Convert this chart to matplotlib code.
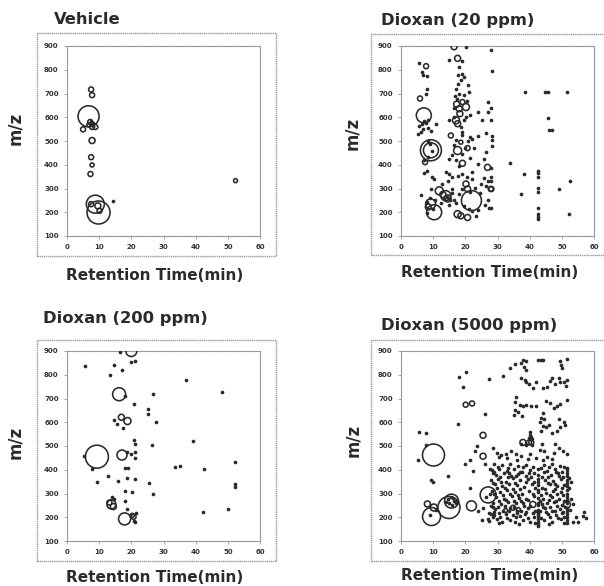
import numpy as np
import matplotlib
matplotlib.use("Agg")
import matplotlib.pyplot as plt
from matplotlib.patches import Rectangle

#=================================#
#   metabolite maps: retention time vs m/z
#   open circles = features, size ~ intensity
#=================================#

W, H = 604, 586
DPI = 100

titles = ["Vehicle", "Dioxan (20 ppm)", "Dioxan (200 ppm)", "Dioxan (5000 ppm)"]
x_ticks = [0, 10, 20, 30, 40, 50, 60]
y_ticks = [100, 200, 300, 400, 500, 600, 700, 800, 900]

# ---- Vehicle ----
veh_circ_rt = [7.5, 7.8, 6.7, 7.2, 7.8, 8.8, 6.8, 5.0, 7.8, 7.5, 7.8, 7.3, 8.8, 9.8, 7.5, 9.6, 10.1, 52.4]
veh_circ_mz = [717, 693, 604, 580, 559, 559, 568, 549, 502, 432, 399, 361, 234, 199, 234, 227, 206, 333]
veh_circ_sz = [5, 5, 21, 5, 5, 5, 4, 5, 6, 5, 4, 5, 18, 23, 5, 6, 5, 4]
veh_dot_rt = [7.4, 8.0, 14.3]
veh_dot_mz = [584, 576, 246]

# ---- Dioxan 20 ppm ----
d20_circ_rt = [16.5, 17.6, 7.8, 5.9, 7.1, 17.3, 18.1, 20.2, 19.1, 18.3, 17.1, 17.6, 15.5,
               9.3, 9.3, 17.6, 18.6, 20.7, 7.5, 19.1, 26.9, 20.2, 20.7, 27.9, 11.9, 13.9,
               14.5, 13.0, 9.2, 10.3, 8.5, 21.9, 17.6, 18.6, 20.7, 28.1]
d20_circ_mz = [897, 848, 815, 679, 608, 655, 636, 643, 664, 615, 587, 573, 523,
               461, 461, 460, 495, 470, 411, 406, 389, 319, 298, 298, 290, 270,
               258, 275, 235, 200, 222, 249, 192, 185, 178, 298]
d20_circ_sz = [6, 6, 5, 5, 15, 6, 6, 7, 5, 6, 7, 6, 5,
               21, 15, 8, 4, 5, 5, 6, 6, 6, 6, 5, 8, 10,
               7, 6, 10, 15, 6, 20, 7, 6, 6, 5]
d20_dot_rt = [5.5, 6.5, 6.7, 8.0, 8.1, 7.8, 5.7, 6.7, 8.3, 6.2, 5.2, 9.3, 10.9, 7.2, 7.8, 6.5, 8.5,
              8.3, 9.1, 8.3, 7.0, 9.6, 8.0, 7.2, 6.2, 9.0, 10.5, 8.0, 9.8, 8.2, 9.5, 10.4, 9.2,
              20.2, 15.0, 19.0, 18.0, 19.0, 19.7, 17.6, 18.6, 17.6, 17.0, 20.7, 17.9, 19.7, 21.0,
              16.8, 17.5, 20.5, 16.5, 15.0, 20.3, 21.5, 19.5, 18.5, 16.6, 19.0, 22.2, 20.7, 21.5,
              19.0, 17.0, 16.5, 20.0, 19.0, 17.0, 16.0, 15.0, 21.5, 18.0, 14.0, 15.0, 16.0, 17.6,
              19.1, 20.5, 22.2, 12.9, 14.5, 15.8, 17.0, 19.5, 21.0, 22.0, 23.3, 23.8, 16.5, 14.8,
              12.5, 17.9, 19.0, 22.0, 21.3, 23.0, 14.2, 15.2, 13.5, 16.0,
              26.9, 23.8, 25.1, 26.4, 25.9, 23.8, 25.9, 26.9, 25.0, 26.5, 27.0, 26.0, 27.5, 24.5,
              28.1, 28.4, 28.1, 28.1, 28.4, 28.4, 28.4, 28.1, 28.1, 28.1, 28.1, 27.2, 26.5, 24.0,
              22.8, 34.0, 38.5, 44.9, 45.6, 51.6, 45.7, 46.0, 46.8, 38.2, 42.6, 42.6, 42.6, 42.6,
              42.6, 37.4, 49.1, 52.4, 42.6, 42.6, 42.6, 42.6, 52.2]
d20_dot_mz = [827, 791, 777, 773, 717, 700, 562, 552, 556, 538, 530, 542, 570, 585, 575, 570, 590,
              502, 488, 432, 420, 347, 372, 365, 274, 262, 250, 245, 215, 195, 460, 340, 300,
              897, 841, 835, 813, 784, 770, 777, 756, 742, 721, 735, 700, 692, 705,
              690, 675, 670, 640, 587, 600, 610, 590, 560, 600, 540, 509, 502, 515,
              525, 505, 485, 470, 445, 418, 440, 425, 430, 395, 368, 361, 347, 354,
              361, 347, 368, 319, 330, 300, 240, 228, 215, 205, 185, 210, 250, 232,
              240, 275, 300, 340, 285, 302, 265, 250, 255, 280,
              622, 622, 587, 453, 425, 403, 344, 333, 320, 312, 250, 230, 220, 280,
              883, 796, 640, 590, 519, 505, 477, 385, 347, 333, 220, 665, 535, 520,
              470, 409, 707, 707, 707, 707, 597, 545, 545, 360, 373, 364, 350, 302,
              284, 277, 296, 333, 216, 192, 180, 171, 191]

# ---- Dioxan 200 ppm ----
d200_circ_rt = [20.0, 16.2, 16.9, 18.8, 9.3, 17.1, 13.8, 14.4, 13.2, 17.9, 20.7, 20.3]
d200_circ_mz = [900, 718, 621, 605, 455, 462, 254, 245, 262, 193, 202, 208]
d200_circ_sz = [11, 13, 6, 7, 23, 10, 9, 6, 5, 12, 5, 4]
d200_dot_rt = [16.5, 5.5, 14.5, 17.1, 13.4, 20.0, 21.2, 36.9, 48.1, 17.9, 26.6, 20.7, 25.1, 25.1,
               14.5, 15.5, 17.4, 27.8, 20.7, 21.0, 26.4, 39.3, 5.2, 18.5, 21.0, 21.0, 20.0, 7.8,
               17.9, 18.9, 33.6, 35.2, 42.6, 52.2, 12.7, 9.3, 15.8, 18.6, 21.2, 25.5, 52.2, 52.2,
               18.1, 20.2, 26.6, 14.0, 14.5, 17.9, 18.6, 42.4, 50.2, 21.4, 20.7, 21.0]
d200_dot_mz = [894, 838, 841, 820, 799, 852, 859, 778, 726, 712, 719, 675, 654, 633,
               610, 593, 577, 600, 525, 508, 504, 521, 459, 476, 476, 451, 465, 403,
               406, 406, 413, 417, 403, 434, 374, 350, 353, 367, 361, 346, 339, 329,
               310, 308, 298, 287, 278, 268, 235, 221, 233, 218, 185, 178]

# ---- Dioxan 5000 ppm ----
d5k_circ_rt = [20.1, 22.1, 25.5, 25.5, 10.1, 27.1, 8.2, 10.2, 9.5, 14.9, 15.7, 21.9,
               37.9, 39.8, 40.5, 41.0, 51.6, 34.8, 32.5, 36.5]
d5k_circ_mz = [674, 679, 545, 457, 462, 294, 256, 241, 203, 241, 268, 248,
               515, 515, 515, 254, 254, 240, 228, 232]
d5k_circ_sz = [5, 5, 6, 6, 22, 16, 6, 7, 18, 22, 14, 10,
               6, 5, 5, 6, 7, 5, 4, 4]
d5k_dot_rt = [14.5, 15.5, 16.5, 17.0, 15.0, 16.0, 14.0, 17.5, 16.2,
              17.9, 20.1, 19.3, 27.3, 26.0, 17.6, 5.6, 7.7, 7.7, 5.2, 23.0, 21.6, 19.9, 22.4,
              26.1, 27.6, 28.5, 9.3, 9.8, 14.5, 21.4, 27.8, 26.5, 25.5, 27.4, 25.1, 26.9, 29.0,
              24.0, 28.5, 9.0, 11.0, 23.5,
              38.0, 38.8, 37.4, 38.2, 38.8, 33.8, 35.4, 42.6, 43.4, 44.2, 49.4, 49.6, 50.0, 51.7,
              31.7, 37.3, 38.4, 39.0, 39.8, 41.1, 44.2, 46.8, 46.2, 49.2, 49.4, 48.0, 50.6, 51.6,
              51.2, 42.0, 45.5,
              35.9, 35.4, 37.0, 38.0, 39.0, 40.5, 42.0, 35.4, 36.4, 35.0, 37.5, 45.0, 46.4, 47.5,
              48.5, 49.5, 51.7, 43.6, 44.6, 43.2, 44.2, 45.0, 43.6, 49.0, 50.6, 49.5, 48.6, 51.0,
              47.0, 40.0, 40.2, 40.5, 39.8, 40.8, 46.0, 44.0,
              37.3, 38.8, 40.8, 43.8, 43.3, 44.6, 48.0, 49.0, 47.6, 50.5, 28.6, 29.7, 31.2, 32.5,
              34.3, 35.9, 37.4, 40.0, 42.0, 45.5, 47.0, 51.5, 30.5, 33.0, 36.0, 39.5, 44.0,
              29.0, 31.5, 34.0, 36.5, 39.0, 41.0, 44.5, 47.0, 49.5,
              28.2, 30.5, 32.8, 35.2, 37.6, 40.1, 42.6, 45.3, 47.8, 50.2, 51.6, 51.6,
              29.4, 31.9, 34.1, 36.3, 38.8, 41.2, 42.6, 43.8, 46.5, 48.9, 51.6, 51.6, 50.4,
              28.0, 30.2, 32.5, 34.8, 37.0, 39.4, 42.6, 42.6, 44.9, 47.3, 49.6, 51.6, 51.6, 53.0,
              29.1, 31.4, 33.6, 36.0, 38.3, 40.6, 42.6, 43.9, 46.2, 48.6, 50.8, 51.6, 52.3,
              28.4, 30.8, 33.0, 35.3, 37.7, 39.9, 42.6, 42.6, 45.0, 47.4, 49.8, 51.6, 51.6, 50.5,
              29.6, 32.0, 34.4, 36.7, 38.9, 41.3, 42.6, 44.3, 46.8, 49.1, 51.6, 51.6, 53.0,
              28.7, 31.0, 33.3, 35.6, 38.0, 40.0, 42.6, 42.6, 45.4, 47.7, 49.9, 51.6, 53.5, 44.0,
              29.2, 31.6, 34.0, 37.2, 39.5, 42.6, 42.6, 44.8, 46.9, 49.3, 51.6, 51.6, 50.3,
              28.1, 30.4, 32.7, 34.9, 36.2, 38.6, 40.9, 42.6, 42.6, 45.8, 48.2, 50.1, 51.6, 51.6,
              27.5, 29.8, 31.3, 33.8, 35.5, 37.9, 40.2, 42.6, 42.6, 42.6, 44.5, 47.0, 49.6, 51.6,
              51.6, 53.5, 55.0, 57.0, 57.6, 56.5, 54.5]
d5k_dot_mz = [275, 285, 270, 258, 258, 250, 265, 270, 280,
              791, 813, 749, 782, 636, 594, 559, 556, 505, 439, 481, 439, 425, 394,
              425, 404, 385, 358, 347, 372, 322, 300, 285, 238, 216, 188, 192, 209,
              225, 245, 210, 230, 502,
              862, 858, 848, 832, 822, 827, 845, 862, 862, 862, 858, 842, 830, 866,
              795, 785, 780, 768, 760, 743, 746, 785, 774, 785, 768, 760, 770, 780,
              752, 770, 750,
              707, 686, 673, 668, 673, 668, 668, 650, 645, 630, 628, 690, 680, 660,
              668, 676, 692, 620, 612, 600, 585, 578, 562, 612, 602, 580, 562, 590,
              555, 558, 548, 540, 532, 528, 590, 640,
              510, 503, 506, 510, 485, 480, 510, 490, 472, 480, 490, 472, 463, 466,
              477, 468, 458, 465, 450, 455, 445, 465, 455, 448, 440, 445, 440,
              423, 418, 425, 415, 420, 412, 418, 425, 415,
              398, 405, 395, 402, 392, 400, 405, 395, 402, 390, 408, 398,
              378, 385, 372, 382, 375, 385, 380, 370, 378, 385, 385, 372, 368,
              355, 362, 350, 365, 355, 362, 360, 350, 358, 352, 362, 358, 345, 350,
              338, 330, 342, 335, 328, 340, 335, 325, 338, 330, 335, 330, 322,
              312, 305, 315, 308, 300, 312, 315, 305, 302, 312, 305, 315, 300, 295,
              285, 278, 290, 282, 275, 288, 280, 275, 285, 278, 285, 272, 278,
              262, 255, 265, 258, 262, 248, 262, 250, 258, 265, 252, 262, 255, 245,
              235, 228, 238, 225, 238, 232, 222, 238, 228, 235, 240, 228, 222,
              212, 218, 215, 210, 218, 212, 218, 212, 205, 215, 210, 218, 212, 200,
              185, 192, 180, 188, 178, 190, 182, 192, 182, 172, 188, 180, 192, 188,
              176, 182, 181, 223, 198, 205, 200]
# extra features in the crowded low-mass / late-eluting region
d5k_dot2_rt = [30.0, 33.2, 37.9, 43.5, 46.0, 50.8,
               28.8, 33.5, 36.9, 39.7, 44.4, 48.3,
               30.9, 33.4, 35.7, 40.3, 45.8, 49.0, 52.1,
               28.6, 31.1, 35.5, 38.9, 41.5, 45.6, 48.0,
               29.9, 32.2, 34.7, 37.1, 41.8, 44.7, 47.8, 50.0,
               29.0, 31.8, 34.0, 36.4, 40.9, 43.4, 46.2, 48.4,
               30.4, 32.6, 35.0, 37.4, 39.6, 43.1, 45.9, 48.3, 50.6,
               28.0, 30.1, 32.4, 35.1, 38.2, 43.7, 46.3, 48.5, 50.9,
               29.0, 33.6, 36.1, 38.9, 41.6, 43.3, 45.1, 47.8, 52.4,
               28.6, 30.9, 33.0, 35.8, 37.1, 39.4, 41.4, 43.5, 46.2, 48.8, 50.8,
               30.5, 36.8, 41.8, 42.6, 46.0, 50.7]
d5k_dot2_mz = [410, 408, 410, 408, 410, 412,
               390, 388, 390, 388, 390, 392,
               370, 368, 372, 370, 368, 372, 365,
               345, 348, 345, 348, 350, 345, 342,
               322, 325, 320, 318, 322, 318, 320, 325,
               298, 295, 300, 295, 298, 292, 295, 298,
               270, 272, 268, 270, 272, 268, 272, 270, 268,
               248, 245, 248, 245, 248, 255, 245, 248, 245,
               222, 225, 228, 222, 225, 228, 222, 225, 230,
               200, 202, 198, 200, 205, 198, 200, 198, 202, 198, 202,
               175, 172, 175, 165, 172, 175]

panels = [
    (veh_circ_rt, veh_circ_mz, veh_circ_sz, veh_dot_rt, veh_dot_mz),
    (d20_circ_rt, d20_circ_mz, d20_circ_sz, d20_dot_rt, d20_dot_mz),
    (d200_circ_rt, d200_circ_mz, d200_circ_sz, d200_dot_rt, d200_dot_mz),
    (d5k_circ_rt, d5k_circ_mz, d5k_circ_sz, d5k_dot_rt + d5k_dot2_rt, d5k_dot_mz + d5k_dot2_mz),
]

# layout in pixels (left, top of plot area), plot area ~193x190
ax_pos = [(67, 46), (401, 46), (67, 351), (401, 351)]
box_pos = [(37, 33, 276, 256), (371, 34, 610, 255), (37, 340, 276, 561), (371, 340, 610, 561)]
title_pos = [(54, 20), (381, 20), (43, 318), (381, 326)]
mz_pos = [(15, 128), (352, 133), (15, 442), (353, 440)]
rt_pos = [(155, 275), (490, 273), (155, 577), (490, 575)]
PW, PH = 193, 190

dark = "#2a2a2a"
gray = "#9a9a9a"

fig = plt.figure(figsize=(W / DPI, H / DPI), dpi=DPI)

def fx(px):
    return px / W

def fy(py):
    return 1 - py / H

for i, (crt, cmz, csz, drt, dmz) in enumerate(panels):
    l, t = ax_pos[i]
    ax = fig.add_axes([fx(l), fy(t + PH), PW / W, PH / H])
    s = (np.array(csz) * 72.0 / DPI) ** 2
    ax.scatter(crt, cmz, s=s, facecolors="none", edgecolors=dark, linewidths=1.15, zorder=3)
    ax.scatter(drt, dmz, s=7, c=dark, linewidths=0, zorder=3)
    ax.set_xlim(0, 60)
    ax.set_ylim(100, 900)
    ax.set_xticks(x_ticks)
    ax.set_yticks(y_ticks)
    for sp in ax.spines.values():
        sp.set_color(gray)
        sp.set_linewidth(0.8)
        sp.set_linestyle((0, (1, 0.6)))
    ax.tick_params(length=2, width=0.6, color=gray, labelsize=5, labelcolor="#333333", pad=4)
    for lab in ax.get_xticklabels() + ax.get_yticklabels():
        lab.set_fontweight("bold")

    bx0, by0, bx1, by1 = box_pos[i]
    fig.add_artist(Rectangle((fx(bx0), fy(by1)), (bx1 - bx0) / W, (by1 - by0) / H,
                             transform=fig.transFigure, fill=False, edgecolor=gray,
                             linewidth=1.0, linestyle=(0, (1, 0.5))))

    tx, ty = title_pos[i]
    fig.text(fx(tx), fy(ty), titles[i], fontsize=11.8, fontweight="bold", color="#2b2b2b",
             ha="left", va="center")
    mx, my = mz_pos[i]
    fig.text(fx(mx), fy(my), "m/z", fontsize=12, fontweight="bold", color="#2b2b2b",
             rotation=90, ha="center", va="center")
    rx, ry = rt_pos[i]
    fig.text(fx(rx), fy(ry), "Retention Time(min)", fontsize=11, fontweight="bold",
             color="#2b2b2b", ha="center", va="center")

fig.savefig("out.png", dpi=DPI)
